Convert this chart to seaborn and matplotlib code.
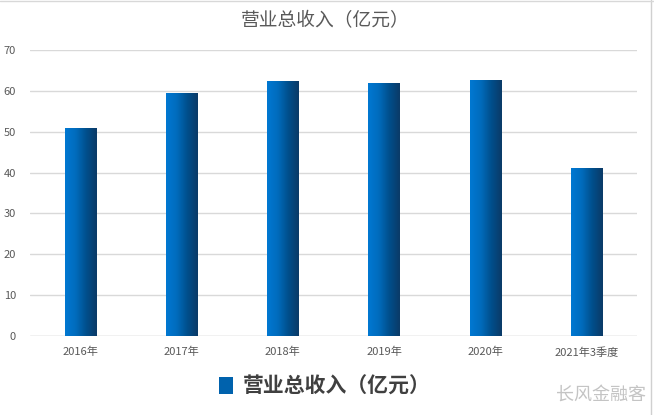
import numpy as np
import pandas as pd
import matplotlib
matplotlib.use("Agg")
import matplotlib.pyplot as plt
import seaborn as sns
from matplotlib.colors import LinearSegmentedColormap
from matplotlib.patches import Patch
from matplotlib.lines import Line2D

categories = ["2016年", "2017年", "2018年", "2019年", "2020年", "2021年3季度"]
revenue = [51.0, 59.5, 62.4, 61.9, 62.6, 41.1]
series_name = "营业总收入（亿元）"
title = "营业总收入（亿元）"
watermark = "长风金融客"
yticks = [0, 10, 20, 30, 40, 50, 60, 70]

sns.set_theme(style="white")
plt.rcParams['font.family'] = ['Noto Sans CJK SC', 'DejaVu Sans']

fig = plt.figure(figsize=(6.54, 4.15), dpi=100)
ax = fig.add_axes([30/654, 79/415, 607/654, 286/415])

df = pd.DataFrame({"cat": categories, "val": revenue})
sns.barplot(data=df, x="cat", y="val", ax=ax, width=0.31, color="#0070c0",
            edgecolor="none", zorder=3)

cmap = LinearSegmentedColormap.from_list("g", ["#0078d2", "#006cbd", "#004f8c", "#0b3a66"])
grad = np.linspace(0, 1, 256).reshape(1, -1)
for p in ax.patches:
    x0, y0 = p.get_x(), p.get_y()
    w, h = p.get_width(), p.get_height()
    im = ax.imshow(grad, cmap=cmap, aspect="auto", extent=[x0, x0 + w, y0, y0 + h],
                   zorder=4, interpolation="bicubic")
    im.set_clip_path(p)

ax.set_xlim(-0.5, 5.5)
ax.set_ylim(0, 70)
ax.set_yticks(yticks)
ax.set_yticklabels([str(t) for t in yticks])
ax.grid(axis="y", color="#d9d9d9", linewidth=1, zorder=0)
ax.set_axisbelow(True)
for s in ax.spines.values():
    s.set_visible(False)
ax.axhline(0, color="#d9d9d9", linewidth=1, zorder=2)
ax.tick_params(axis="both", length=0, labelsize=8, colors="#595959")
ax.tick_params(axis="x", pad=8)
ax.tick_params(axis="y", pad=10)
ax.set_xlabel("")
ax.set_ylabel("")

fig.text(325/654, 1 - 21/415, title, ha="center", va="center", fontsize=13.5, color="#595959")

handle = Patch(facecolor="#0062ad", edgecolor="none")
leg = fig.legend([handle], [series_name], loc="center", bbox_to_anchor=(325/654, 1 - 386/415),
                 frameon=False, handlelength=0.65, handleheight=0.85, handletextpad=0.5,
                 prop={"size": 15, "weight": "semibold"})
for t in leg.get_texts():
    t.set_color("#404040")

fig.text(601/654, 1 - 395/415, watermark, ha="center", va="center", fontsize=13, color="#c4c4c4")

fig.add_artist(Line2D([651/654, 651/654], [0, 1], color="#d0d0d0", linewidth=1, transform=fig.transFigure))
fig.add_artist(Line2D([0, 1], [1 - 1.5/415, 1 - 1.5/415], color="#d8d8d8", linewidth=1, transform=fig.transFigure))

fig.savefig("out.png", dpi=100)
